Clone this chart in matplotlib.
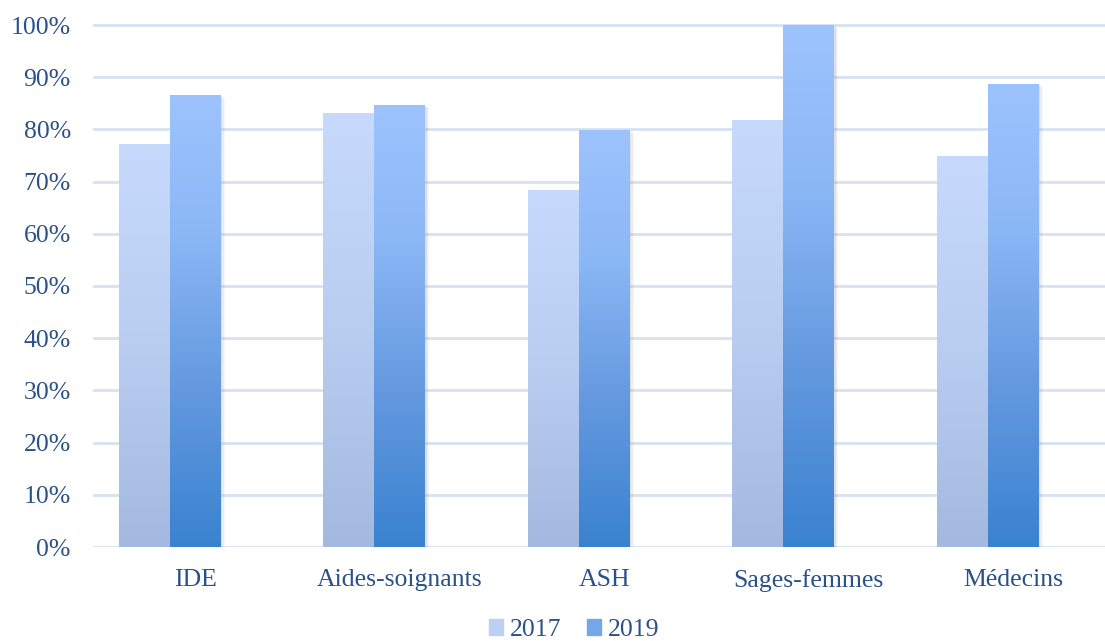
# Bar chart 2017 vs 2019 by profession

import numpy as np
import matplotlib
matplotlib.use("Agg")
import matplotlib.pyplot as plt
from matplotlib.colors import LinearSegmentedColormap
from matplotlib.patches import Rectangle
import matplotlib.patheffects as pe

# Data
categories = ["IDE", "Aides-soignants", "ASH", "Sages-femmes", "Médecins"]
years = ["2017", "2019"]
values_2017 = [0.772, 0.831, 0.684, 0.818, 0.749]
values_2019 = [0.866, 0.847, 0.799, 1.0, 0.887]
y_ticks = [0, 0.1, 0.2, 0.3, 0.4, 0.5, 0.6, 0.7, 0.8, 0.9, 1.0]

text_color = "#2b5189"
grid_color = "#d6e2f3"

# Gradients (bottom -> top)
cmap_2017 = LinearSegmentedColormap.from_list(
    "g17", [(0, "#a4b9df"), (0.5, "#b9cdf1"), (1, "#c7dafe")])
cmap_2019 = LinearSegmentedColormap.from_list(
    "g19", [(0, "#3a82d0"), (0.35, "#6499df"), (0.7, "#8cb8f6"), (1, "#9dc3fd")])

plt.rcParams["font.family"] = ["Liberation Serif", "DejaVu Serif"]

fig = plt.figure(figsize=(11.05, 6.41), dpi=100)
W, H = 1105, 641
px_per_cat = 204.5
left_px, right_px = 93, 1105
bottom_px, top_px = 547, 25
ymax = 1.02
ax = fig.add_axes([left_px / W, (H - bottom_px) / H,
                   (right_px - left_px) / W,
                   (bottom_px - top_px) * ymax / H])

x = np.arange(len(categories))
bw = 51 / px_per_cat
# soft shadow: a few faint offset copies
shadow = [pe.SimplePatchShadow(offset=(3, -2), shadow_rgbFace="#808080", alpha=0.06),
          pe.SimplePatchShadow(offset=(2, -1.5), shadow_rgbFace="#808080", alpha=0.08),
          pe.SimplePatchShadow(offset=(1, -1), shadow_rgbFace="#808080", alpha=0.12),
          pe.Normal()]

grad = np.linspace(0, 1, 256).reshape(-1, 1)
for vals, cmap, off in [(values_2017, cmap_2017, -bw), (values_2019, cmap_2019, 0)]:
    bars = ax.bar(x + off, vals, width=bw, color=cmap(1.0), zorder=2)
    for b in bars:
        b.set_path_effects(shadow)
        x0, y0 = b.get_x(), b.get_y()
        im = ax.imshow(grad, cmap=cmap, origin="lower", aspect="auto",
                       extent=[x0, x0 + b.get_width(), y0, y0 + b.get_height()],
                       zorder=3)
        im.set_clip_path(b)

ax.set_xlim(-0.5, -0.5 + (right_px - left_px) / px_per_cat)
ax.set_ylim(0, ymax)
ax.set_yticks(y_ticks)
ax.set_yticklabels([f"{int(round(t * 100))}%" for t in y_ticks])
ax.set_xticks(x)
ax.set_xticklabels(categories)
ax.tick_params(axis="both", length=0, labelsize=18.5, colors=text_color)
ax.tick_params(axis="y", pad=16)
ax.tick_params(axis="x", pad=16)

ax.yaxis.grid(True, color=grid_color, linewidth=2.0, zorder=0)
ax.set_axisbelow(True)
for s in ax.spines.values():
    s.set_visible(False)

handles = [Rectangle((0, 0), 1, 1, color=cmap_2017(0.6)),
           Rectangle((0, 0), 1, 1, color=cmap_2019(0.5))]
fig.legend(handles, years, loc="center", bbox_to_anchor=(574 / W, 1 - 630 / H),
           ncol=2, frameon=False, fontsize=18.5, labelcolor=text_color,
           handlelength=0.55, handleheight=0.55, handletextpad=0.25,
           columnspacing=1.0, borderaxespad=0)

fig.savefig("out.png", dpi=100)
